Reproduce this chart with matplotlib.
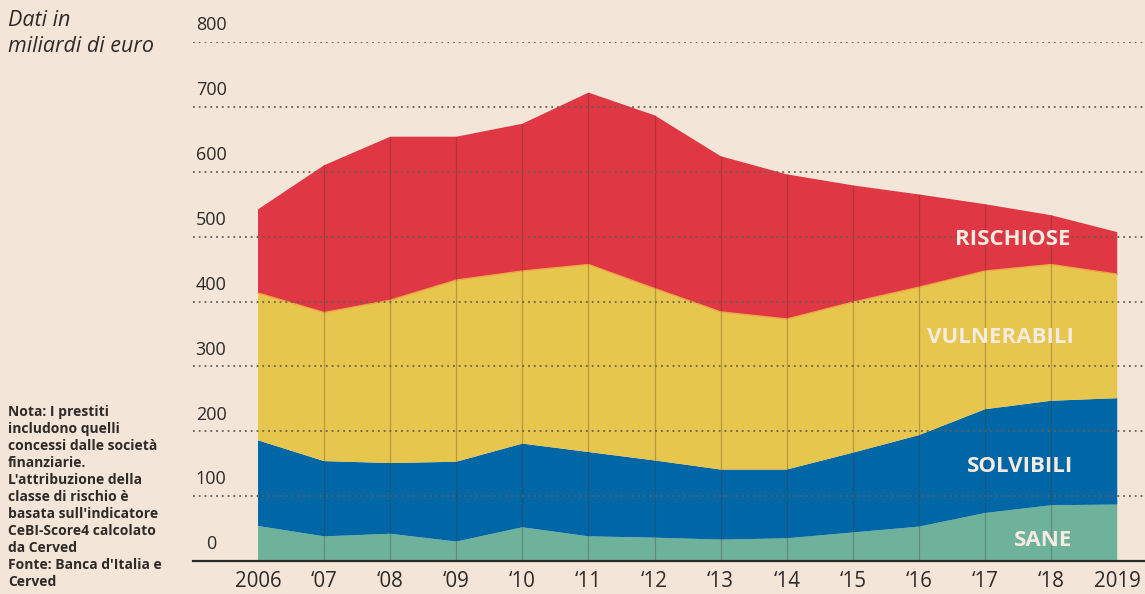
import matplotlib
matplotlib.use("Agg")
import matplotlib.pyplot as plt
import numpy as np

# ---- data (miliardi di euro) ----
years = [2006, 2007, 2008, 2009, 2010, 2011, 2012, 2013, 2014, 2015, 2016, 2017, 2018, 2019]
year_labels = ["2006", "\u201807", "\u201808", "\u201809", "\u201810", "\u201811", "\u201812",
               "\u201813", "\u201814", "\u201815", "\u201816", "\u201817", "\u201818", "2019"]
sane = [54, 38, 42, 30, 52, 38, 36, 33, 35, 44, 53, 74, 86, 87]
solvibili = [132, 116, 109, 123, 129, 130, 119, 108, 106, 123, 141, 160, 161, 164]
vulnerabili = [227, 229, 251, 280, 266, 289, 265, 243, 232, 232, 228, 213, 210, 191]
rischiose = [129, 227, 252, 221, 227, 265, 267, 240, 223, 180, 143, 103, 76, 65]
series_names = ["SANE", "SOLVIBILI", "VULNERABILI", "RISCHIOSE"]
y_ticks = [0, 100, 200, 300, 400, 500, 600, 700, 800]

title_text = "Dati in\nmiliardi di euro"
note_text = ("Nota: I prestiti\nincludono quelli\nconcessi dalle società\nfinanziarie.\n"
             "L'attribuzione della\nclasse di rischio è\nbasata sull'indicatore\n"
             "CeBI-Score4 calcolato\nda Cerved\nFonte: Banca d'Italia e\nCerved")

# ---- style ----
BG = "#f3e6d8"
COLORS = ["#6fb29c", "#0067a6", "#e6c64c", "#df3744"]
TXT = "#2e2a27"
LABEL_COL = "#f5ebe1"
FONT = ["Open Sans", "DejaVu Sans"]
plt.rcParams["font.family"] = FONT

W, H = 1145, 594
fig = plt.figure(figsize=(W / 100, H / 100), dpi=100, facecolor=BG)
ax = fig.add_axes([193 / W, (H - 561) / H, (W - 193) / W, (561 - 42) / H])
ax.set_facecolor(BG)
ax.set_xlim(2005.016, 2019.42)
ax.set_ylim(0, 800)

stack = [sane, solvibili, vulnerabili, rischiose]
ax.stackplot(years, *stack, colors=COLORS, linewidth=0, zorder=1)

cum = np.cumsum(np.array(stack), axis=0)
# thin warm edge between red and yellow
ax.plot(years, cum[2], color="#f0a646", lw=1.0, zorder=2)
# vertical year lines inside the areas
ax.vlines(years[1:-1], 0, cum[3][1:-1], colors="#4a3020", alpha=0.3, lw=0.9, zorder=2)

# dotted gridlines on top
for t in y_ticks[1:]:
    ax.axhline(t, color="#6a5e55", ls=(0, (1, 2.2)), lw=1.3, zorder=3)
ax.axhline(0, color="#2b2b2b", lw=1.6, zorder=4, clip_on=False)

# y labels above gridlines
for t in y_ticks:
    ax.annotate(str(t), xy=(0.019, t), xycoords=ax.get_yaxis_transform(),
                xytext=(0, 12), textcoords="offset points", ha="center", va="center",
                fontsize=13, color=TXT, annotation_clip=False)

ax.set_xticks(years)
ax.set_xticklabels(year_labels, fontsize=14.8, color=TXT)
ax.tick_params(axis="x", length=0, pad=7)
ax.set_yticks([])
for s in ax.spines.values():
    s.set_visible(False)

# series labels
label_pos = [(2017.88, 31), (2017.53, 146), (2017.23, 344), (2017.42, 495)]
for name, (lx, ly) in zip(series_names, label_pos):
    ax.text(lx, ly, name, ha="center", va="center", fontsize=16, fontweight="bold",
            color=LABEL_COL, zorder=5)

fig.text(8 / W, 1 - 10 / H, title_text, ha="left", va="top", fontsize=15.5,
         style="italic", color=TXT, linespacing=1.3)
fig.text(8 / W, 1 - 405 / H, note_text, ha="left", va="top", fontsize=10,
         fontweight="bold", color=TXT, linespacing=1.27)

fig.savefig("out.png", dpi=100, facecolor=BG)
